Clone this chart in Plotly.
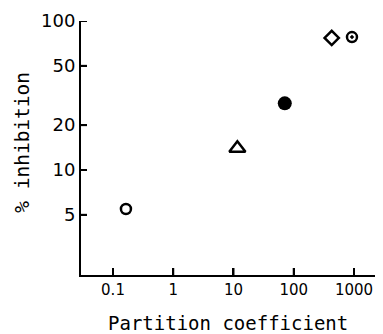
import plotly.graph_objects as go

# Data
partition_coeff = [0.164, 11.6, 71, 427, 926]
inhibition_pct = [5.47, 14.0, 28.0, 77.0, 78.0]
symbols = ["circle-open", "triangle-up-open", "circle", "diamond-open", "circle-open-dot"]
sizes = [10, 14, 14, 11, 10]

x_tickvals = [0.1, 1, 10, 100, 1000]
x_ticktext = ["0.1", "1", "10", "100", "1000"]
y_tickvals = [5, 10, 20, 50, 100]
y_ticktext = ["5", "10", "20", "50", "100"]

FONT = "DejaVu Sans"
TFONT = "DejaVu Sans Mono"

X_RANGE = [-1.531, 3.465]   # log10 units
Y_RANGE = [0.295, 2.0]
W, H = 375, 326
ML, MR, MT, MB = 73, 1, 13, 59
x_px_per_dec = (W - ML - MR) / (X_RANGE[1] - X_RANGE[0])
y_px_per_dec = (H - MT - MB) / (Y_RANGE[1] - Y_RANGE[0])
XTICK_LEN, YTICK_LEN = 7, 6

fig = go.Figure()

# inward tick marks at the tick values (drawn as short line segments)
tx, ty = [], []
y_lo = 10 ** Y_RANGE[0]
for v in x_tickvals:
    tx += [v, v, None]
    ty += [y_lo, y_lo * 10 ** (XTICK_LEN / y_px_per_dec), None]
x_lo = 10 ** X_RANGE[0]
for v in y_tickvals:
    tx += [x_lo, x_lo * 10 ** (YTICK_LEN / x_px_per_dec), None]
    ty += [v, v, None]
fig.add_trace(go.Scatter(x=tx, y=ty, mode="lines", line=dict(color="black", width=2),
                         showlegend=False, hoverinfo="skip"))

for xv, yv, sym, sz in zip(partition_coeff, inhibition_pct, symbols, sizes):
    fig.add_trace(go.Scatter(
        x=[xv], y=[yv], mode="markers",
        marker=dict(symbol=sym, size=sz, color="black",
                    line=dict(color="black", width=2.5 if "open" in sym else 0)),
        showlegend=False, hoverinfo="skip", cliponaxis=False,
    ))

# page body has an 8px margin, so the figure is shifted by 8px
fig.update_layout(
    template="simple_white",
    width=W, height=H,
    margin=dict(l=ML, r=MR, t=MT, b=MB, autoexpand=False),
    paper_bgcolor="white", plot_bgcolor="white",
    font=dict(family=FONT, color="black"),
    annotations=[
        dict(text="Partition coefficient", xref="paper", yref="paper",
             x=0.488, y=-0.189, xanchor="center", yanchor="middle",
             showarrow=False, font=dict(size=19, family=TFONT)),
        dict(text="% inhibition", xref="paper", yref="paper",
             x=-0.193, y=0.524, xanchor="center", yanchor="middle",
             textangle=-90, showarrow=False, font=dict(size=19.5, family=TFONT)),
    ],
)
fig.update_xaxes(
    type="log", range=X_RANGE, automargin=False,
    tickmode="array", tickvals=x_tickvals, ticktext=x_ticktext,
    ticks="inside", ticklen=XTICK_LEN, tickwidth=2, tickcolor="black",
    showline=True, linewidth=2, linecolor="black",
    showgrid=False, zeroline=False,
    tickfont=dict(size=15, family=FONT, color="black"),
)
fig.update_yaxes(
    type="log", range=Y_RANGE, automargin=False,
    tickmode="array", tickvals=y_tickvals, ticktext=y_ticktext,
    ticks="inside", ticklen=YTICK_LEN, tickwidth=2, tickcolor="black",
    showline=True, linewidth=2, linecolor="black",
    showgrid=False, zeroline=False,
    tickfont=dict(size=18, family=FONT, color="black"),
)
fig.write_html("out.html")
